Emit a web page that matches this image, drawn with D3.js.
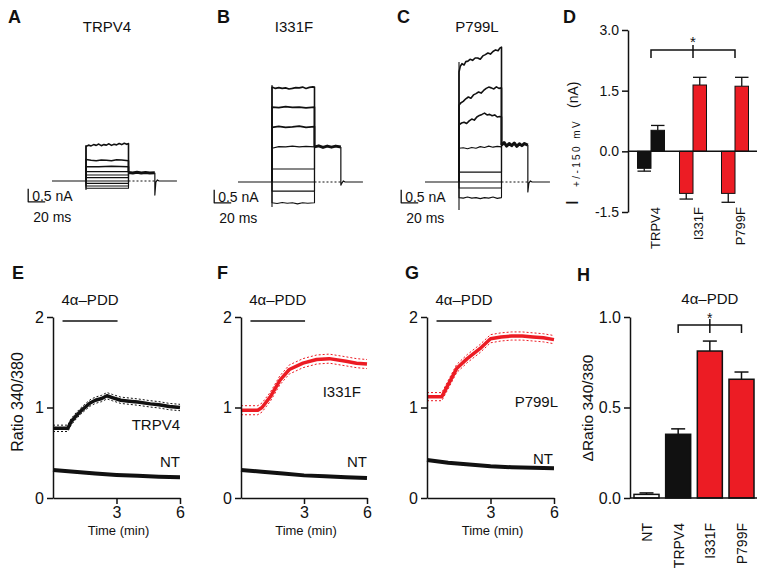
<!DOCTYPE html>
<html><head><meta charset="utf-8">
<script src="https://cdn.jsdelivr.net/npm/d3@7"></script>
<style>
body{margin:0;background:#fff}
svg{display:block}
text{font-family:"Liberation Sans",Arial,Helvetica,sans-serif;fill:#111}
</style>
</head><body>
<script>
// ================= DATA =================
// Panels A–C : current traces (time in ms, current in nA)
const protocolMs = [0, 40, 90, 121, 147];   // start, step on, step off, tail off, end

const tracesA = [
  [[40,1.33],[43,1.38],[46,1.35],[49,1.4],[52,1.37],[55,1.42],[58,1.36],[61,1.4],[64,1.38],[67,1.43],[70,1.37],[73,1.41],[76,1.39],[79,1.44],[82,1.4],[85,1.45],[88,1.41],[90,1.44]],
  [[40,0.83],[46,0.8],[52,0.78],[58,0.81],[64,0.8],[70,0.78],[76,0.82],[82,0.81],[90,0.78]],
  [[40,0.55],[55,0.55],[70,0.57],[90,0.55]],
  [[40,0.36],[90,0.36]],
  [[40,0.23],[90,0.23]],
  [[40,0.13],[90,0.13]],
  [[40,0],[90,0]],
  [[40,-0.09],[90,-0.09]],
  [[40,-0.19],[90,-0.19]],
  [[40,-0.28],[90,-0.28]]
];
const tailA = [[90,0.33],[95,0.31],[100,0.34],[105,0.31],[110,0.33],[115,0.31],[121,0.32]];
const onsetA = [-0.35, 1.38];
const spikeA = -0.54;

const tracesB = [
  [[40,3.65],[44,3.6],[48,3.63],[52,3.6],[56,3.62],[60,3.58],[64,3.6],[68,3.63],[72,3.62],[76,3.65],[80,3.6],[84,3.64],[88,3.66],[90,3.65]],
  [[40,2.88],[48,2.86],[56,2.9],[64,2.87],[72,2.88],[80,2.85],[90,2.88]],
  [[40,2.1],[48,2.14],[56,2.1],[64,2.12],[72,2.15],[80,2.1],[90,2.13]],
  [[40,1.3],[48,1.36],[56,1.35],[64,1.38],[72,1.35],[80,1.37],[90,1.35]],
  [[40,0.5],[90,0.5]],
  [[40,0],[90,0]],
  [[40,-0.35],[90,-0.35]],
  [[40,-0.8],[46,-0.83],[52,-0.79],[58,-0.82],[64,-0.8],[70,-0.84],[76,-0.8],[82,-0.82],[90,-0.8]]
];
const tailB = [[90,1.35],[95,1.39],[100,1.33],[105,1.38],[110,1.34],[115,1.38],[121,1.35]];
const onsetB = [-0.96, 3.73];
const spikeB = -0.12;

const tracesC = [
  [[40,4.23],[41.5,4.45],[43.5,4.55],[46,4.5],[48,4.63],[50.5,4.65],[53,4.72],[56,4.68],[59,4.77],[62,4.77],[65,4.72],[68,4.85],[71,4.9],[74,4.96],[77,4.92],[80,5.02],[83,5.08],[86,5.05],[88,5.15],[90,5.19]],
  [[40,2.95],[42,3.04],[45,3.1],[48,3.2],[51,3.27],[54,3.22],[57,3.35],[60,3.4],[63,3.46],[66,3.42],[69,3.52],[72,3.6],[75,3.65],[78,3.62],[81,3.58],[84,3.66],[87,3.6],[90,3.62]],
  [[40,2.2],[43,2.27],[46,2.3],[49,2.25],[52,2.35],[55,2.42],[58,2.38],[61,2.5],[64,2.56],[67,2.6],[70,2.65],[73,2.58],[76,2.6],[79,2.55],[82,2.58],[85,2.5],[88,2.52],[90,2.5]],
  [[40,1.3],[45,1.32],[50,1.28],[55,1.33],[60,1.3],[65,1.36],[70,1.33],[75,1.38],[80,1.34],[85,1.37],[90,1.35]],
  [[40,0.38],[90,0.38]],
  [[40,0],[90,0]],
  [[40,-0.23],[90,-0.23]],
  [[40,-0.6],[45,-0.62],[50,-0.58],[55,-0.62],[60,-0.6],[65,-0.64],[70,-0.6],[75,-0.62],[80,-0.58],[85,-0.63],[90,-0.6]]
];
const tailC = [[90,1.42],[93,1.52],[96,1.38],[99,1.48],[102,1.4],[105,1.5],[108,1.37],[111,1.47],[114,1.4],[117,1.48],[121,1.42]];
const onsetC = [-1.08, 4.62];
const spikeC = -0.38;

// Panel D : mean current at -150 / +150 mV (nA)
const dCategories = ['TRPV4', 'I331F', 'P799F'];
const dNeg = [-0.42, -1.04, -1.04];
const dNegErr = [0.07, 0.14, 0.22];
const dPos = [0.52, 1.64, 1.61];
const dPosErr = [0.12, 0.19, 0.22];
const dTicks = [-1.5, 0, 1.5, 3];

// Panels E–G : ratio 340/380 time courses (min)
const tTRPV4 = [0, 0.7, 0.85, 1.1, 1.4, 1.75, 2.0, 2.3, 2.55, 2.8, 3.2, 3.6, 4.0, 4.6, 5.0, 5.5, 6.0];
const vTRPV4 = [0.77, 0.77, 0.84, 0.91, 0.98, 1.05, 1.08, 1.1, 1.13, 1.11, 1.08, 1.07, 1.06, 1.04, 1.03, 1.01, 1.0];
const semTRPV4 = 0.035;
const tI331F = [0, 0.8, 1.0, 1.4, 1.85, 2.3, 2.95, 3.6, 4.2, 5.0, 5.5, 6.0];
const vI331F = [0.97, 0.97, 1.0, 1.12, 1.3, 1.42, 1.49, 1.53, 1.54, 1.51, 1.49, 1.48];
const semI331F = 0.05;
const tP799L = [0, 0.7, 0.95, 1.4, 1.9, 2.5, 3.0, 3.5, 4.0, 4.5, 5.0, 5.5, 6.0];
const vP799L = [1.12, 1.12, 1.23, 1.43, 1.54, 1.65, 1.76, 1.78, 1.79, 1.79, 1.78, 1.77, 1.75];
const semP799L = 0.045;
const tNT = [0, 1, 2, 3, 4, 5, 6];
const vNT_E = [0.31, 0.29, 0.27, 0.255, 0.245, 0.235, 0.23];
const vNT_F = [0.31, 0.29, 0.27, 0.25, 0.24, 0.23, 0.22];
const vNT_G = [0.42, 0.39, 0.37, 0.35, 0.34, 0.335, 0.33];
const pddWindow = [0.45, 3.05];
const ratioTicks = [0, 1, 2];
const timeTicks = [3, 6];

// Panel H : delta ratio
const hCategories = ['NT', 'TRPV4', 'I331F', 'P799F'];
const hValues = [0.02, 0.352, 0.812, 0.656];
const hErr = [0.008, 0.03, 0.055, 0.04];
const hTicks = [0, 0.5, 1.0];

// ================= DRAWING =================
const RED = '#ec1c24';
const BLK = '#111';
const svg = d3.select('body').append('svg').attr('width', 763).attr('height', 573);

function label(x, y, s, size, opts = {}) {
  const t = svg.append('text').attr('x', x).attr('y', y).attr('font-size', size).text(s);
  if (opts.anchor) t.attr('text-anchor', opts.anchor);
  if (opts.bold) t.attr('font-weight', 'bold');
  return t;
}

// panel letters
[['A',8,23],['B',217,23],['C',397,23],['D',563,23],['E',12,279],['F',217,279],['G',405,279],['H',577,281]]
  .forEach(d => label(d[1], d[2], d[0], 18, {bold: true}));

// ---------- A–C traces ----------
const tracePanels = [
  {traces: tracesA, tail: tailA, onset: onsetA, spike: spikeA, ox: 52, oy: 181, title: 'TRPV4', tx: 107},
  {traces: tracesB, tail: tailB, onset: onsetB, spike: spikeB, ox: 238, oy: 182, title: 'I331F', tx: 294},
  {traces: tracesC, tail: tailC, onset: onsetC, spike: spikeC, ox: 425, oy: 182, title: 'P799L', tx: 477}
];
const [t0, tOn, tOff, tTail, tEnd] = protocolMs;
tracePanels.forEach(p => {
  const x = d3.scaleLinear().domain([0, 20]).range([p.ox, p.ox + 17]);
  const y = d3.scaleLinear().domain([0, 0.5]).range([p.oy, p.oy - 13]);
  const line = d3.line().x(d => x(d[0])).y(d => y(d[1]));
  const g = svg.append('g').attr('fill', 'none').attr('stroke', BLK).attr('stroke-linejoin', 'round');
  const tailStart = p.tail[0][1], tailEnd = p.tail[p.tail.length - 1][1];
  g.append('path').attr('d', line([[t0, 0], [tOn, 0]])).attr('stroke-width', 1.2);
  g.append('path').attr('d', line([[tOn, p.onset[0]], [tOn, p.onset[1]]])).attr('stroke-width', 1.1);
  p.traces.forEach((tr, i) => {
    const pts = [[tOn, 0], ...tr, [tOff, tailStart]];
    g.append('path').attr('d', line(pts)).attr('stroke-width', i < 3 ? 1.6 : 1.1);
  });
  g.append('path').attr('d', line(p.tail)).attr('stroke-width', 3);
  g.append('path').attr('d', line([[tTail, tailEnd], [tTail, p.spike], [tTail + 1.2, -0.04], [tTail + 3, 0.04], [tTail + 5, 0], [tEnd, 0]]))
    .attr('stroke-width', 1.2);
  g.append('path').attr('d', line([[tOff, 0], [tTail, 0]])).attr('stroke-width', 1).attr('stroke-dasharray', '2,2');
  g.append('path').attr('d', line([[-28, -0.3], [-28, -0.8], [-8, -0.8]])).attr('stroke-width', 1.3);
  label(x(-28) + 4, y(-0.8) - 1, '0.5 nA', 14);
  label(x(-28) + 5, y(-0.8) + 20, '20 ms', 14);
  label(p.tx, 32, p.title, 15, {anchor: 'middle'});
});

// ---------- D ----------
(function () {
  const y = d3.scaleLinear().domain([-1.5, 3]).range([212, 30]);
  const x = d3.scaleBand().domain(dCategories).range([628, 758]).paddingInner(0.357).paddingOuter(0.226);
  const sub = d3.scaleBand().domain(['neg', 'pos']).range([0, x.bandwidth()]);
  const g = svg.append('g');
  dCategories.forEach((c, i) => {
    const col = i === 0 ? BLK : RED;
    [['neg', dNeg[i], -dNegErr[i]], ['pos', dPos[i], dPosErr[i]]].forEach(([k, v, e]) => {
      const bx = x(c) + sub(k), bw = sub.bandwidth();
      const cx = bx + bw / 2;
      g.append('line').attr('x1', cx).attr('x2', cx).attr('y1', y(v)).attr('y2', y(v + e))
        .attr('stroke', BLK).attr('stroke-width', 1.3);
      g.append('line').attr('x1', bx).attr('x2', bx + bw).attr('y1', y(v + e)).attr('y2', y(v + e))
        .attr('stroke', BLK).attr('stroke-width', 1.3);
      g.append('rect').attr('x', bx).attr('width', bw)
        .attr('y', Math.min(y(v), y(0))).attr('height', Math.abs(y(v) - y(0)))
        .attr('fill', col).attr('stroke', BLK).attr('stroke-width', 1);
    });
    const lab = svg.append('g').attr('transform', `translate(${x(c) + x.bandwidth() / 2 + 9.5},207) rotate(-90)`);
    lab.append('text').attr('text-anchor', 'end').attr('font-size', 13).text(c);
  });
  const ax = svg.append('g').attr('transform', 'translate(628,0)')
    .call(d3.axisLeft(y).tickValues(dTicks).tickSize(6).tickSizeOuter(0).tickPadding(3).tickFormat(d => d.toFixed(1)));
  ax.select('.domain').attr('stroke-width', 1.5).attr('stroke', BLK);
  ax.selectAll('.tick line').attr('stroke-width', 1.5).attr('stroke', BLK);
  ax.selectAll('.tick text').attr('font-size', 14).attr('font-family', null).attr('fill', BLK);
  svg.append('line').attr('x1', 628).attr('x2', 757).attr('y1', y(0)).attr('y2', y(0))
    .attr('stroke', BLK).attr('stroke-width', 1.5);
  const c0 = x(dCategories[0]) + x.bandwidth() / 2, c1 = x(dCategories[1]) + x.bandwidth() / 2, c2 = x(dCategories[2]) + x.bandwidth() / 2;
  svg.append('path').attr('d', `M${c0},58V50H${c2}V58M${c1},45V58`).attr('fill', 'none')
    .attr('stroke', BLK).attr('stroke-width', 1.5);
  label(c1, 47, '*', 15, {anchor: 'middle'});
  const dl = svg.append('g').attr('transform', 'translate(578,0) rotate(-90)');
  dl.append('text').attr('x', -205).attr('y', 0).attr('font-size', 17).text('I');
  dl.append('text').attr('x', -187).attr('y', 2).attr('font-size', 10).attr('letter-spacing', 2.4).text('+/-150 mV');
  dl.append('text').attr('x', -108).attr('y', 0).attr('font-size', 14).text('(nA)');
})();

// ---------- E–G ----------
const ratioPanels = [
  {x0: 53, x1: 180, t: tTRPV4, v: vTRPV4, sem: semTRPV4, col: BLK, name: 'TRPV4', nameX: 180, nameY: 430, nt: vNT_E, ntX: 180, ntY: 467, ylabel: true},
  {x0: 241, x1: 367, t: tI331F, v: vI331F, sem: semI331F, col: RED, name: 'I331F', nameX: 361, nameY: 397, nt: vNT_F, ntX: 367, ntY: 467},
  {x0: 427, x1: 554, t: tP799L, v: vP799L, sem: semP799L, col: RED, name: 'P799L', nameX: 558, nameY: 407, nt: vNT_G, ntX: 553, ntY: 464}
];
ratioPanels.forEach(p => {
  const x = d3.scaleLinear().domain([0, 6]).range([p.x0, p.x1]);
  const y = d3.scaleLinear().domain([0, 2]).range([498, 317]);
  const line = d3.line().x(d => x(d[0])).y(d => y(d[1]));
  const g = svg.append('g').attr('fill', 'none');
  const main = p.t.map((t, i) => [t, p.v[i]]);
  g.append('path').attr('d', line(main.map(d => [d[0], d[1] + p.sem]))).attr('stroke', p.col).attr('stroke-width', 1).attr('stroke-dasharray', '2,2');
  g.append('path').attr('d', line(main.map(d => [d[0], d[1] - p.sem]))).attr('stroke', p.col).attr('stroke-width', 1).attr('stroke-dasharray', '2,2');
  g.append('path').attr('d', line(main)).attr('stroke', p.col).attr('stroke-width', 3.5).attr('stroke-linejoin', 'round');
  g.append('path').attr('d', line(tNT.map((t, i) => [t, p.nt[i]]))).attr('stroke', BLK).attr('stroke-width', 4);
  const ay = svg.append('g').attr('transform', `translate(${p.x0},0)`)
    .call(d3.axisLeft(y).tickValues(ratioTicks).tickSize(6).tickSizeOuter(0).tickPadding(3).tickFormat(d3.format('d')));
  const axx = svg.append('g').attr('transform', 'translate(0,498)')
    .call(d3.axisBottom(x).tickValues(timeTicks).tickSize(6).tickSizeOuter(0).tickPadding(3).tickFormat(d3.format('d')));
  [ay, axx].forEach(a => {
    a.select('.domain').attr('stroke-width', 1.5).attr('stroke', BLK);
    a.selectAll('.tick line').attr('stroke-width', 1.5).attr('stroke', BLK);
    a.selectAll('.tick text').attr('font-size', 16).attr('font-family', null).attr('fill', BLK);
  });
  label((p.x0 + p.x1) / 2 + 2, 535, 'Time (min)', 13, {anchor: 'middle'});
  svg.append('line').attr('x1', x(pddWindow[0])).attr('x2', x(pddWindow[1])).attr('y1', 321).attr('y2', 321)
    .attr('stroke', BLK).attr('stroke-width', 1.5);
  label(x((pddWindow[0] + pddWindow[1]) / 2), 305, '4α–PDD', 15, {anchor: 'middle'});
  label(p.nameX, p.nameY, p.name, 15, {anchor: 'end'});
  label(p.ntX, p.ntY, 'NT', 15, {anchor: 'end'});
  if (p.ylabel) {
    svg.append('text').attr('transform', 'translate(23,402) rotate(-90)').attr('text-anchor', 'middle')
      .attr('font-size', 16).text('Ratio 340/380');
  }
});

// ---------- H ----------
(function () {
  const y = d3.scaleLinear().domain([0, 1]).range([498, 317]);
  const x = d3.scaleBand().domain(hCategories).range([630, 758]).paddingInner(0.21).paddingOuter(0.126);
  const cols = ['#fff', BLK, RED, RED];
  hCategories.forEach((c, i) => {
    const bx = x(c), bw = x.bandwidth(), cx = bx + bw / 2;
    const top = hValues[i] + hErr[i];
    svg.append('line').attr('x1', cx).attr('x2', cx).attr('y1', y(hValues[i])).attr('y2', y(top)).attr('stroke', BLK).attr('stroke-width', 1.5);
    svg.append('line').attr('x1', cx - 7).attr('x2', cx + 7).attr('y1', y(top)).attr('y2', y(top)).attr('stroke', BLK).attr('stroke-width', 1.5);
    svg.append('rect').attr('x', bx).attr('width', bw).attr('y', y(hValues[i])).attr('height', y(0) - y(hValues[i]))
      .attr('fill', cols[i]).attr('stroke', BLK).attr('stroke-width', 1.5);
    const lab = svg.append('g').attr('transform', `translate(${cx + 5.5},523) rotate(-90)`);
    lab.append('text').attr('text-anchor', 'end').attr('font-size', 14).text(c);
  });
  const ay = svg.append('g').attr('transform', 'translate(630,0)')
    .call(d3.axisLeft(y).tickValues(hTicks).tickSize(6).tickSizeOuter(0).tickPadding(3).tickFormat(d => d.toFixed(1)));
  ay.select('.domain').attr('stroke-width', 1.5).attr('stroke', BLK);
  ay.selectAll('.tick line').attr('stroke-width', 1.5).attr('stroke', BLK);
  ay.selectAll('.tick text').attr('font-size', 16).attr('font-family', null).attr('fill', BLK);
  svg.append('line').attr('x1', 630).attr('x2', 757).attr('y1', y(0)).attr('y2', y(0)).attr('stroke', BLK).attr('stroke-width', 1.5);
  const c0 = x('TRPV4') + x.bandwidth() / 2, c1 = x('I331F') + x.bandwidth() / 2, c2 = x('P799F') + x.bandwidth() / 2;
  svg.append('path').attr('d', `M${c0},333V325H${c2}V333M${c1},319V333`).attr('fill', 'none').attr('stroke', BLK).attr('stroke-width', 1.5);
  label(c1, 323, '*', 14, {anchor: 'middle'});
  label(c1, 304, '4α–PDD', 15, {anchor: 'middle'});
  svg.append('text').attr('transform', 'translate(593,408) rotate(-90)').attr('text-anchor', 'middle')
    .attr('font-size', 15.5).text('ΔRatio 340/380');
})();
</script>
</body></html>
